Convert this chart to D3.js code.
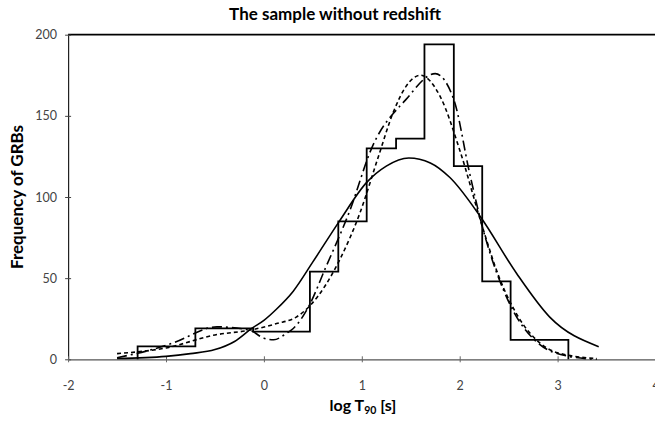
<!DOCTYPE html>
<html>
<head>
<meta charset="utf-8">
<script src="https://cdn.jsdelivr.net/npm/d3@7"></script>
<style>
  html, body { margin: 0; padding: 0; background: #fff; }
  svg { display: block; }
  text { font-family: Lato, "Open Sans", "DejaVu Sans", sans-serif; }
</style>
</head>
<body>
<svg id="chart" width="655" height="425"></svg>
<script>
// ---- data ----
const title = "The sample without redshift";
const xTicks = [-2, -1, 0, 1, 2, 3, 4];
const yTicks = [0, 50, 100, 150, 200];

// histogram bin edges (log T90) and counts
const binEdges = [-1.29, -0.70, -0.11, 0.47, 0.76, 1.05, 1.35, 1.64, 1.94, 2.23, 2.52, 3.11];
const binCounts = [8, 19, 17, 54, 85, 130, 136, 194, 119, 48, 12];

// solid fitted curve
const solidX = [-1.5, -1.0, -0.75, -0.5, -0.3, -0.125, 0.0, 0.13, 0.30, 0.50, 0.77, 1.05, 1.25, 1.48, 1.70, 1.90, 2.21, 2.58, 2.92, 3.42];
const solidY = [0.5, 1.8, 3.5, 6, 11, 19, 24, 31, 42, 60, 85, 109, 119, 124, 121, 112, 88, 53, 26, 7.8];

// short-dashed fitted curve
const dashX = [-1.5, -1.0, -0.5, -0.14, 0.13, 0.33, 0.47, 0.78, 0.98, 1.17, 1.32, 1.45, 1.6, 1.8, 2.0, 2.23, 2.4, 2.6, 2.8, 3.0, 3.4];
const dashY = [3.5, 7, 15, 18, 22, 26, 33, 62, 90, 125, 152, 168, 175, 162, 129, 82, 51, 26, 11, 4, 0.5];

// long-dash-dot fitted curve
const ddX = [-1.5, -1.16, -0.93, -0.48, -0.15, 0.0, 0.1, 0.23, 0.30, 0.47, 0.62, 0.88, 1.1, 1.45, 1.75, 1.94, 2.1, 2.23, 2.52, 2.8, 3.1, 3.4];
const ddY = [1, 5.7, 10, 20, 18, 13, 12, 16, 19, 34, 55, 92, 130, 160, 176, 160, 115, 82, 33, 10, 2, 0];

// ---- drawing ----
const svg = d3.select("#chart");
const x = d3.scaleLinear().domain([-2, 4]).range([68.1, 655.5]);
const y = d3.scaleLinear().domain([0, 200]).range([359.3, 34.7]);

// title
svg.append("text").attr("x", 335).attr("y", 20).attr("text-anchor", "middle")
  .attr("font-size", 17).attr("font-weight", "bold").attr("fill", "#000").text(title);

// top gridline (at 200)
svg.append("line").attr("x1", x(-2)).attr("x2", 655).attr("y1", y(200)).attr("y2", y(200))
  .attr("stroke", "#000").attr("stroke-width", 1.8);

// y axis
const yAxis = d3.axisLeft(y).tickValues(yTicks).tickSize(0).tickPadding(11).tickFormat(d => String(d));
const gy = svg.append("g").attr("transform", `translate(${x(-2)},0)`).call(yAxis);
gy.select(".domain").attr("stroke", "#222").attr("stroke-width", 1.2);
gy.selectAll("text").attr("font-size", 12.5).attr("fill", "#444").attr("font-family", "Lato, 'Open Sans', sans-serif");
gy.selectAll(".tick").append("line").attr("x1", -3).attr("x2", 3).attr("stroke", "#444");

// x axis
const xAxis = d3.axisBottom(x).tickValues(xTicks).tickSize(0).tickPadding(22).tickFormat(d => String(d));
const gx = svg.append("g").attr("transform", `translate(0,${y(0)})`).call(xAxis);
gx.select(".domain").attr("stroke", "#555").attr("stroke-width", 1.2);
gx.selectAll("text").attr("font-size", 12.5).attr("fill", "#444").attr("font-family", "Lato, 'Open Sans', sans-serif");
gx.selectAll(".tick").append("line").attr("y1", -3).attr("y2", 3).attr("stroke", "#666");

// axis titles
svg.append("text").attr("transform", `translate(23,${(y(0) + y(200)) / 2}) rotate(-90)`)
  .attr("text-anchor", "middle").attr("font-size", 17).attr("font-weight", "bold").text("Frequency of GRBs");
const xl = svg.append("text").attr("x", 363).attr("y", 411).attr("text-anchor", "middle")
  .attr("font-size", 16).attr("font-weight", "bold");
xl.append("tspan").text("log T");
xl.append("tspan").attr("font-size", 10.5).attr("dy", 3).text("90");
xl.append("tspan").attr("dy", -3).text(" [s]");

// histogram outline (step)
const histPts = [[binEdges[0], 0]];
binCounts.forEach((c, i) => { histPts.push([binEdges[i], c]); histPts.push([binEdges[i + 1], c]); });
histPts.push([binEdges[binEdges.length - 1], 0]);
svg.append("path").datum(histPts)
  .attr("d", d3.line().x(d => x(d[0])).y(d => y(d[1])))
  .attr("fill", "none").attr("stroke", "#000").attr("stroke-width", 1.8);

// curves
const curveLine = d3.line().x(d => x(d[0])).y(d => y(d[1])).curve(d3.curveMonotoneX);
function drawCurve(xs, ys, dash, w) {
  svg.append("path").datum(xs.map((v, i) => [v, ys[i]]))
    .attr("d", curveLine).attr("fill", "none").attr("stroke", "#000")
    .attr("stroke-width", w).attr("stroke-dasharray", dash);
}
drawCurve(solidX, solidY, null, 1.6);
drawCurve(dashX, dashY, "4,3", 1.6);
drawCurve(ddX, ddY, "10,4,2,4", 1.6);
</script>
</body>
</html>
